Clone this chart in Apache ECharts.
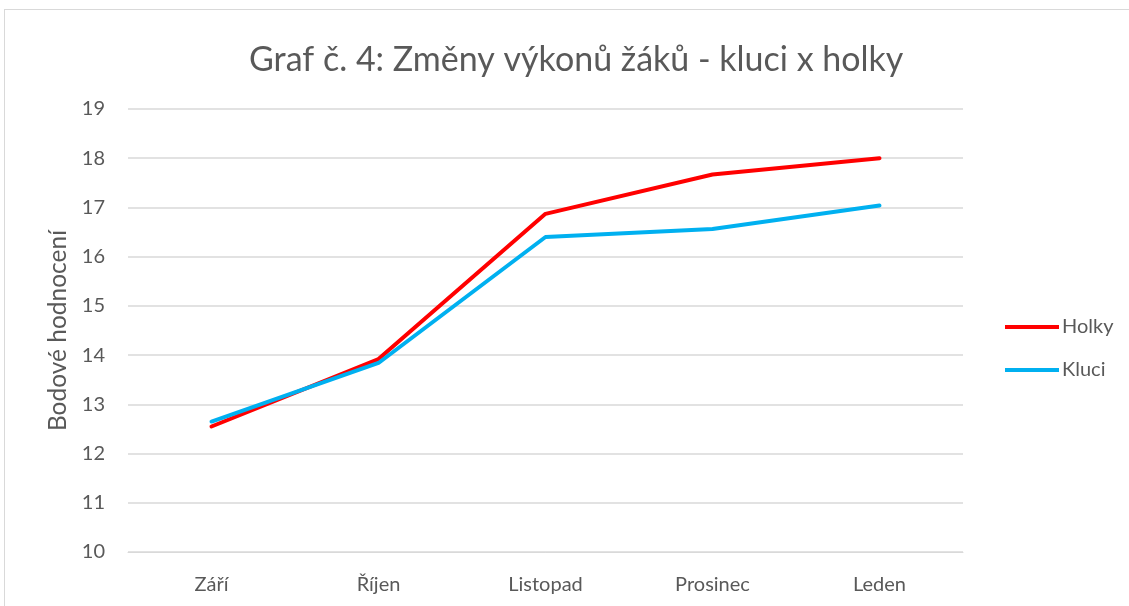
<!DOCTYPE html>
<html>
<head>
<meta charset="utf-8">
<script src="https://cdn.jsdelivr.net/npm/echarts@6/dist/echarts.min.js"></script>
<style>
html, body { margin: 0; padding: 0; background: #fff; }
#frame {
    position: absolute; left: 4px; top: 9px; width: 1140px; height: 620px;
    border: 1px solid #d9d9d9; box-sizing: border-box;
}
#chart { position: absolute; left: 0; top: 0; width: 1129px; height: 606px; }
</style>
</head>
<body>
<div id="frame"></div>
<div id="chart"></div>
<script>
const months = ['Září', 'Říjen', 'Listopad', 'Prosinec', 'Leden'];
const holky = [12.55, 13.92, 16.87, 17.67, 18.0];
const kluci = [12.65, 13.84, 16.4, 16.56, 17.04];

const textColor = '#595959';
const font = 'Lato, "Noto Sans", sans-serif';

let myChart = echarts.init(document.getElementById('chart'));
let option = {
    title: {
        text: 'Graf č. 4: Změny výkonů žáků - kluci x holky',
        left: 244,
        top: 38,
        textStyle: { color: textColor, fontSize: 34, fontWeight: 'normal', fontFamily: font }
    },
    legend: {
        orient: 'vertical',
        left: 1000,
        top: 312,
        itemWidth: 54,
        itemHeight: 4,
        itemGap: 23,
        icon: 'rect',
        textStyle: { color: textColor, fontSize: 20, fontFamily: font, padding: [0, 0, 0, -2] },
        data: ['Holky', 'Kluci']
    },
    grid: {
        left: 128,
        right: 166,
        top: 109,
        bottom: 54
    },
    xAxis: {
        type: 'category',
        data: months,
        axisLine: { lineStyle: { color: '#d9d9d9' } },
        axisTick: { show: false },
        axisLabel: { color: textColor, fontSize: 20, fontFamily: font, margin: 23 }
    },
    yAxis: {
        type: 'value',
        min: 10,
        max: 19,
        interval: 1,
        name: 'Bodové hodnocení',
        nameLocation: 'middle',
        nameGap: 55,
        nameTextStyle: { color: textColor, fontSize: 24.5, fontFamily: font },
        axisLine: { show: false },
        axisTick: { show: false },
        axisLabel: { color: textColor, fontSize: 20, fontFamily: font, margin: 23 },
        splitLine: { lineStyle: { color: '#d9d9d9', width: 1.5 } }
    },
    series: [{
        name: 'Holky',
        type: 'line',
        data: holky,
        color: '#FF0000',
        symbol: 'none',
        lineStyle: { width: 4, cap: 'round' }
    }, {
        name: 'Kluci',
        type: 'line',
        data: kluci,
        color: '#00B0F0',
        symbol: 'none',
        lineStyle: { width: 4, cap: 'round' }
    }]
};
myChart.setOption(option);
</script>
</body>
</html>
